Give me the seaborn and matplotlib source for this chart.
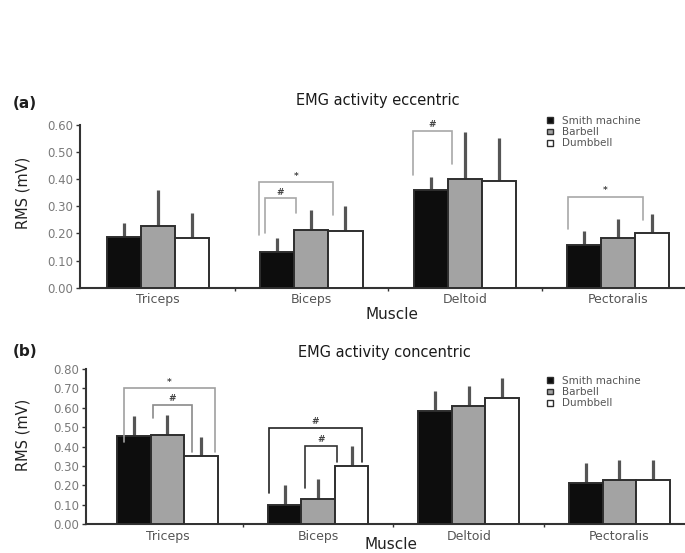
import numpy as np
import pandas as pd
import matplotlib
matplotlib.use("Agg")
import matplotlib.pyplot as plt
import seaborn as sns
from matplotlib.patches import Patch

# ---- data -------------------------------------------------------------
muscles = ["Triceps", "Biceps", "Deltoid", "Pectoralis"]
equipment = ["Smith machine", "Barbell", "Dumbbell"]

# eccentric phase: mean RMS (mV) and SD
ecc_smith = [0.187, 0.132, 0.361, 0.159]
ecc_barbell = [0.227, 0.214, 0.402, 0.184]
ecc_dumbbell = [0.185, 0.209, 0.393, 0.200]
ecc_smith_sd = [0.052, 0.052, 0.049, 0.049]
ecc_barbell_sd = [0.132, 0.071, 0.171, 0.071]
ecc_dumbbell_sd = [0.090, 0.092, 0.159, 0.071]

# concentric phase: mean RMS (mV) and SD
con_smith = [0.452, 0.100, 0.581, 0.211]
con_barbell = [0.461, 0.131, 0.611, 0.225]
con_dumbbell = [0.349, 0.301, 0.652, 0.225]
con_smith_sd = [0.103, 0.103, 0.103, 0.104]
con_barbell_sd = [0.103, 0.103, 0.099, 0.103]
con_dumbbell_sd = [0.098, 0.100, 0.101, 0.103]

ecc_ticks = [0.0, 0.1, 0.2, 0.3, 0.4, 0.5, 0.6]
con_ticks = [0.0, 0.1, 0.2, 0.3, 0.4, 0.5, 0.6, 0.7, 0.8]

# significance brackets: x_left, x_right, y_top, y_left_end, y_right_end, mark, colour
ecc_brackets = [
    (0.698, 0.898, 0.329, 0.201, 0.275, "#", "#a8a8a8"),
    (0.658, 1.141, 0.388, 0.194, 0.267, "*", "#a8a8a8"),
    (1.664, 1.915, 0.579, 0.414, 0.457, "#", "#a8a8a8"),
    (2.670, 3.163, 0.334, 0.218, 0.251, "*", "#a8a8a8"),
]
con_brackets = [
    (-0.289, 0.315, 0.700, 0.425, 0.373, "*", "#a0a0a0"),
    (-0.094, 0.161, 0.614, 0.546, 0.373, "#", "#8a8a8a"),
    (0.676, 1.290, 0.494, 0.158, 0.322, "#", "#222222"),
    (0.913, 1.127, 0.403, 0.184, 0.322, "#", "#333333"),
]

bar_colors = ["#0d0d0d", "#a3a3a3", "#ffffff"]
edge = "#2e2e2e"

sns.set_style("ticks")
plt.rcParams["font.family"] = ["DejaVu Sans"]

fig = plt.figure(figsize=(6.85, 5.53), dpi=100)
W, H = 685.0, 553.0


def panel(rect, smith, barbell, dumbbell, sds, ticks, xlim, title, title_xy,
          tag, tag_y, brackets, legend_top, ylab_coords, xlab_coords):
    ax = fig.add_axes(rect)
    df = pd.DataFrame({
        "Muscle": muscles * 3,
        "Equipment": np.repeat(equipment, len(muscles)),
        "RMS": smith + barbell + dumbbell,
    })
    sns.barplot(data=df, x="Muscle", y="RMS", hue="Equipment", order=muscles,
                hue_order=equipment, palette=bar_colors, width=0.667, gap=0,
                errorbar=None, edgecolor=edge, linewidth=1.4, legend=False,
                ax=ax, zorder=3)

    # upper-only SD whiskers from each bar top
    for cont, sd in zip(ax.containers, sds):
        xs = [p.get_x() + p.get_width() / 2 for p in cont.patches]
        hs = [p.get_height() for p in cont.patches]
        ax.errorbar(xs, hs, yerr=[np.zeros(len(sd)), sd], fmt="none",
                    ecolor="#555555", elinewidth=2.3, capsize=0, zorder=2)

    # brackets
    for x1, x2, yt, y1, y2, mark, col in brackets:
        ax.plot([x1, x1, x2, x2], [y1, yt, yt, y2], color=col, lw=1.2,
                zorder=4, solid_joinstyle="miter")
        ax.text((x1 + x2) / 2, yt + ticks[-1] * 0.012, mark, ha="center",
                va="bottom", fontsize=6.5, color="#444444", fontweight="bold")

    ax.set_ylim(0, ticks[-1])
    ax.set_xlim(*xlim)
    ax.set_yticks(ticks)
    ax.set_yticklabels([f"{t:.2f}" for t in ticks])
    ax.tick_params(axis="y", length=3, width=1, color="#333333",
                   labelsize=8.5, labelcolor="#7a7a7a", pad=2)
    ax.tick_params(axis="x", which="major", length=0, labelsize=9,
                   labelcolor="#555555", pad=4)
    ax.set_xticks([0.5, 1.5, 2.5], minor=True)
    ax.tick_params(axis="x", which="minor", length=2.5, width=1,
                   color="#333333", direction="out")
    for s in ("top", "right"):
        ax.spines[s].set_visible(False)
    for s in ("left", "bottom"):
        ax.spines[s].set_color("#333333")
        ax.spines[s].set_linewidth(1.5)

    ax.set_ylabel("RMS (mV)", fontsize=10.5, color="#222222")
    ax.yaxis.set_label_coords(*ylab_coords)
    ax.set_xlabel("Muscle", fontsize=11, color="#222222", va="center")
    ax.xaxis.set_label_coords(*xlab_coords)

    fig.text(title_xy[0] / W, 1 - title_xy[1] / H, title, ha="center",
             va="center", fontsize=10.5, color="#1a1a1a")
    fig.text(13 / W, 1 - tag_y / H, tag, ha="left", va="center",
             fontsize=11, fontweight="bold", color="#1e1e1e")

    handles = [Patch(facecolor=c, edgecolor=edge, linewidth=1.0)
               for c in bar_colors]
    ax.legend(handles, equipment, loc="upper left", frameon=False,
              bbox_to_anchor=(547 / W, 1 - legend_top / H),
              bbox_transform=fig.transFigure, fontsize=7.5,
              handlelength=0.55, handleheight=0.45, handletextpad=0.9,
              labelspacing=0.12, borderpad=0, borderaxespad=0,
              labelcolor="#555555")
    return ax


panel([80 / W, 1 - 287.7 / H, 605 / W, 162.7 / H],
      ecc_smith, ecc_barbell, ecc_dumbbell,
      [ecc_smith_sd, ecc_barbell_sd, ecc_dumbbell_sd],
      ecc_ticks, (-0.508, 3.435), "EMG activity eccentric", (378, 100),
      "(a)", 103, ecc_brackets, 116, (-0.081, 0.582), (0.516, -0.162))

panel([86 / W, 1 - 524 / H, 599 / W, 155 / H],
      con_smith, con_barbell, con_dumbbell,
      [con_smith_sd, con_barbell_sd, con_dumbbell_sd],
      con_ticks, (-0.541, 3.436), "EMG activity concentric", (384, 352),
      "(b)", 352, con_brackets, 376, (-0.092, 0.574), (0.509, -0.135))

fig.savefig("out.png", dpi=100, facecolor="white")
